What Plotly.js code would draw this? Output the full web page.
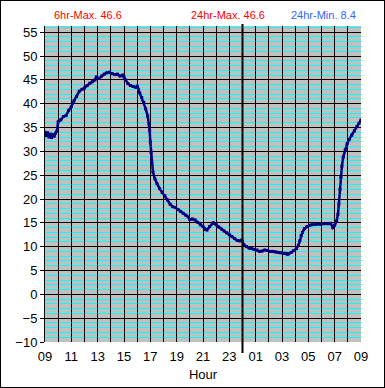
<!DOCTYPE html>
<html>
<head>
<meta charset="utf-8">
<script src="https://cdn.plot.ly/plotly-3.0.1.min.js"></script>
<style>
  body { margin: 0; padding: 0; background: #fff; }
  #wrap { position: relative; width: 385px; height: 388px; }
  #chart { width: 385px; height: 388px; }
  #frame { position: absolute; left: 0; top: 0; width: 385px; height: 388px; box-sizing: border-box; border: 1px solid #000; pointer-events: none; }
</style>
</head>
<body>
<div id="wrap"><div id="chart"></div><div id="frame"></div></div>
<script>
// Hours since midnight of day 1 (24 = midnight, 33 = 09 next day)
const hours = [
  9.0, 9.1, 9.2, 9.3, 9.4, 9.5, 9.6, 9.7, 9.8, 9.9,
  10.0, 10.2, 10.4, 10.6, 10.8, 11.0, 11.2, 11.4, 11.6, 11.8,
  12.0, 12.2, 12.4, 12.6, 12.8, 12.9, 13.1, 13.3, 13.5, 13.7,
  13.9, 14.1, 14.3, 14.5, 14.7, 14.9, 15.0, 15.1, 15.3, 15.5,
  15.7, 15.9, 16.0, 16.1, 16.2, 16.35, 16.5, 16.65, 16.8, 16.9,
  16.95, 17.0, 17.05, 17.1, 17.2, 17.35, 17.5, 17.7, 17.9, 18.1,
  18.3, 18.5, 18.7, 18.9, 19.1, 19.3, 19.5, 19.7, 19.9, 20.0,
  20.2, 20.4, 20.6, 20.8, 21.0, 21.2, 21.3, 21.5, 21.7, 21.8,
  22.0, 22.2, 22.4, 22.6, 22.8, 23.0, 23.2, 23.4, 23.6, 23.8,
  23.95, 24.1, 24.3, 24.5, 24.7, 24.9, 25.1, 25.3, 25.5, 25.7,
  25.9, 26.1, 26.3, 26.5, 26.7, 26.9, 27.1, 27.3, 27.4, 27.5,
  27.7, 27.9, 28.1, 28.25, 28.35, 28.45, 28.55, 28.7, 28.9, 29.1,
  29.3, 29.6, 29.9, 30.2, 30.5, 30.7, 30.85, 31.0, 31.15, 31.25,
  31.32, 31.4, 31.47, 31.55, 31.65, 31.8, 31.95, 32.1, 32.3, 32.5,
  32.7, 32.85, 33.0
];
const temps = [
  34.0, 33.3, 33.9, 33.0, 33.6, 32.9, 33.5, 33.2, 33.8, 34.2,
  36.2, 36.6, 37.3, 37.5, 38.6, 39.4, 40.6, 41.5, 42.6, 43.0,
  43.3, 43.8, 44.3, 44.6, 45.0, 45.6, 45.3, 45.8, 46.2, 46.5,
  46.6, 46.3, 46.1, 46.2, 45.8, 46.0, 45.6, 45.0, 44.2, 43.8,
  43.6, 43.4, 43.7, 43.0, 42.2, 41.3, 40.3, 38.9, 37.4, 35.8,
  34.3, 32.0, 29.8, 27.6, 25.6, 24.2, 23.2, 22.2, 21.4, 20.7,
  19.8, 18.9, 18.4, 18.2, 17.8, 17.4, 17.0, 16.6, 16.2, 15.7,
  15.8, 15.6, 15.1, 14.6, 14.2, 13.6, 13.5, 14.2, 14.9, 15.0,
  14.6, 14.1, 13.7, 13.3, 12.9, 12.5, 12.1, 11.7, 11.3, 11.2,
  11.4, 10.4, 10.0, 9.7, 9.6, 9.4, 9.3, 9.0, 9.1, 9.3,
  9.2, 9.0, 9.0, 8.9, 8.8, 8.7, 8.6, 8.6, 8.4, 8.5,
  8.8, 9.2, 9.6, 10.3, 11.2, 12.3, 13.0, 13.8, 14.2, 14.5,
  14.6, 14.7, 14.7, 14.8, 14.8, 14.9, 14.0, 14.5, 15.4, 16.8,
  19.0, 22.0, 24.5, 26.9, 28.8, 30.3, 31.6, 32.5, 33.4, 34.3,
  35.2, 35.9, 36.6
];
const tickHours = [9,10,11,12,13,14,15,16,17,18,19,20,21,22,23,24,25,26,27,28,29,30,31,32,33];
const tickLabels = ['09','','11','','13','','15','','17','','19','','21','','23','','01','','03','','05','','07','','09'];
const yTicks = [-10,-5,0,5,10,15,20,25,30,35,40,45,50,55];
const headerTexts = ['6hr-Max. 46.6', '24hr-Max. 46.6', '24hr-Min. 8.4'];
const headerHours = [12.26, 22.9, 30.15];
const headerColors = ['#FF0000', '#FF0000', '#3366FF'];
const midnightHour = 24;

const trace = {
  x: hours, y: temps, type: 'scatter', mode: 'lines+markers',
  line: {color: '#000080', width: 2.5},
  marker: {color: '#000080', size: 3, symbol: 'square'},
  hoverinfo: 'skip'
};

const annotations = headerTexts.map((t, i) => ({
  text: t, x: headerHours[i], xref: 'x', y: 1.035, yref: 'paper',
  xanchor: 'center', yanchor: 'middle', showarrow: false,
  font: {family: 'Liberation Sans, Arial, sans-serif', size: 11, color: headerColors[i]}
}));

const layout = {
  width: 385, height: 388,
  margin: {l: 45, r: 24, t: 26, b: 46, pad: 0},
  paper_bgcolor: '#FFFFFF', plot_bgcolor: '#C0C0C0',
  showlegend: false,
  font: {family: 'Liberation Sans, Arial, sans-serif', size: 13, color: '#000'},
  xaxis: {
    range: [9, 33], tickmode: 'array', tickvals: tickHours, ticktext: tickLabels,
    showgrid: true, gridcolor: '#000000', gridwidth: 1,
    zeroline: false, showline: false,
    ticks: '', ticklabelstandoff: 5, tickfont: {size: 13, color: '#000'},
    title: {text: 'Hour', font: {size: 13, color: '#000'}, standoff: 6}
  },
  yaxis: {
    range: [-10, 56.3], tickmode: 'array', tickvals: yTicks,
    showgrid: true, gridcolor: '#000000', gridwidth: 1,
    minor: {dtick: 1, tick0: 0, showgrid: true, gridcolor: '#00FFFF', gridwidth: 1, ticks: ''},
    zeroline: false, showline: true, linecolor: '#000', linewidth: 1,
    ticks: 'outside', ticklen: 4, tickcolor: '#000', tickwidth: 1,
    tickfont: {size: 13, color: '#000'}
  },
  shapes: [{
    type: 'line', xref: 'x', yref: 'paper', x0: midnightHour, x1: midnightHour,
    y0: -0.035, y1: 1.006, line: {color: '#000', width: 2}
  }],
  annotations: annotations
};

Plotly.newPlot('chart', [trace], layout, {staticPlot: true, displayModeBar: false});
</script>
</body>
</html>
